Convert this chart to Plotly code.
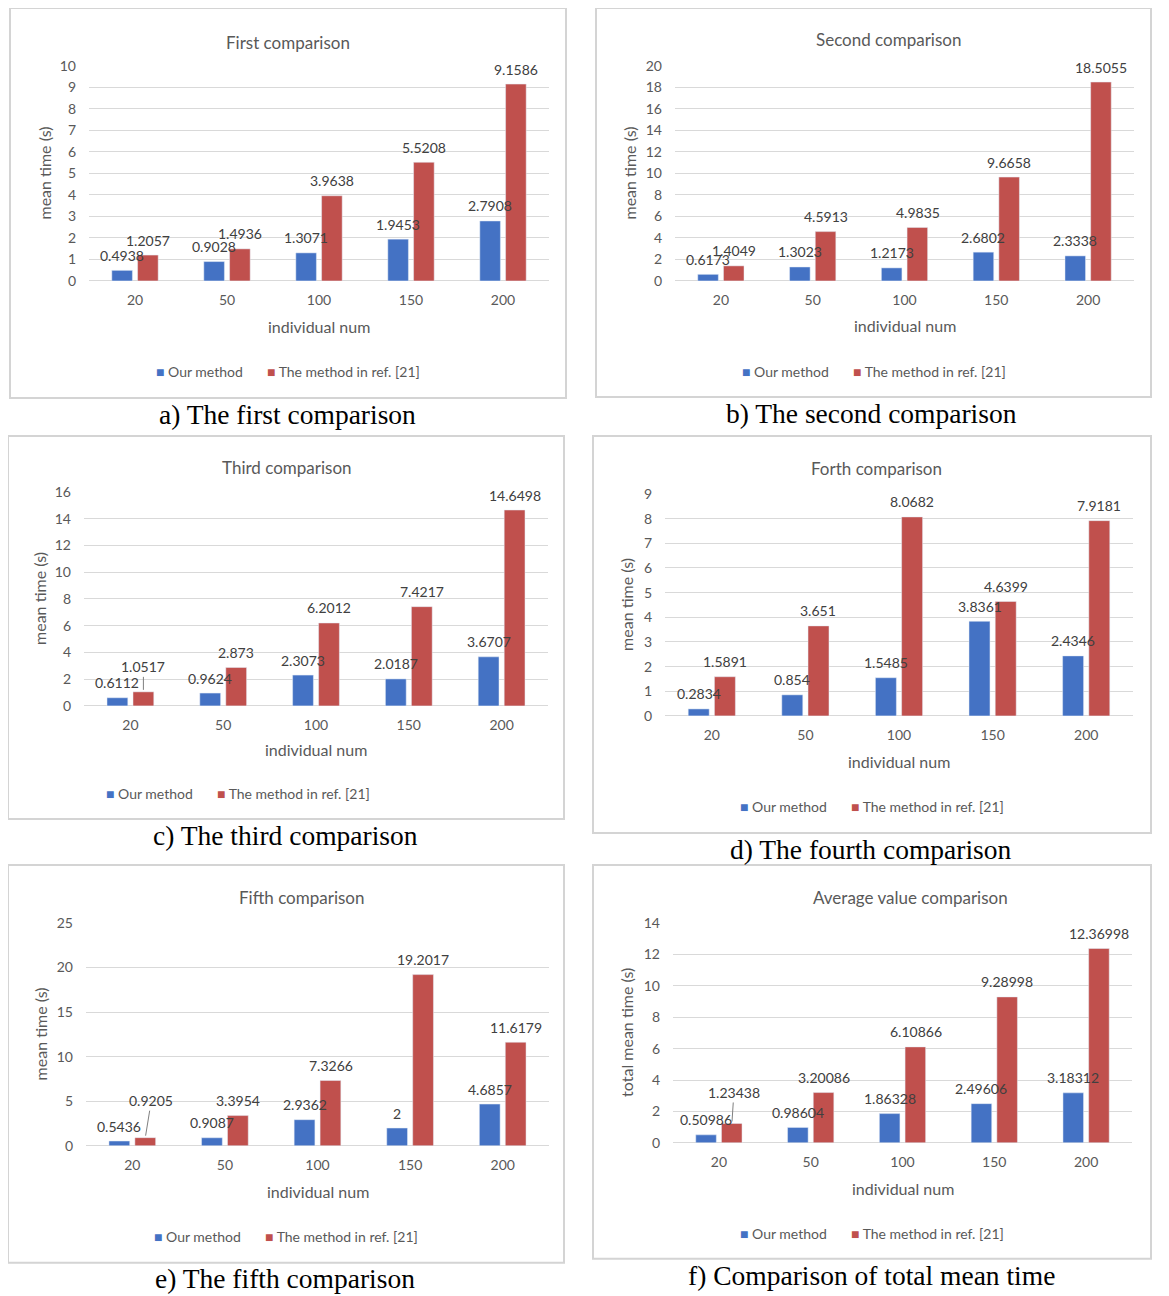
import plotly.graph_objects as go

# ---------------- data ----------------
categories = ["20", "50", "100", "150", "200"]

first_ours = [0.4938, 0.9028, 1.3071, 1.9453, 2.7908]
first_ref = [1.2057, 1.4936, 3.9638, 5.5208, 9.1586]

second_ours = [0.6173, 1.3023, 1.2173, 2.6802, 2.3338]
second_ref = [1.4049, 4.5913, 4.9835, 9.6658, 18.5055]

third_ours = [0.6112, 0.9624, 2.3073, 2.0187, 3.6707]
third_ref = [1.0517, 2.873, 6.2012, 7.4217, 14.6498]

fourth_ours = [0.2834, 0.854, 1.5485, 3.8361, 2.4346]
fourth_ref = [1.5891, 3.651, 8.0682, 4.6399, 7.9181]

fifth_ours = [0.5436, 0.9087, 2.9362, 2, 4.6857]
fifth_ref = [0.9205, 3.3954, 7.3266, 19.2017, 11.6179]

avg_ours = [0.50986, 0.98604, 1.86328, 2.49606, 3.18312]
avg_ref = [1.23438, 3.20086, 6.10866, 9.28998, 12.36998]

series_names = ["Our method", "The method in ref. [21]"]
chart_titles = ["First comparison", "Second comparison", "Third comparison",
                "Forth comparison", "Fifth comparison", "Average value comparison"]
y_titles = ["mean time (s)"] * 5 + ["total mean time (s)"]
x_title = "individual num"
captions = ["a) The first comparison", "b) The second comparison", "c) The third comparison",
            "d) The fourth comparison", "e) The fifth comparison", "f) Comparison of total mean time"]
y_max = [10, 20, 16, 9, 25, 14]
y_dtick = [1, 2, 2, 1, 5, 2]

ours_all = [first_ours, second_ours, third_ours, fourth_ours, fifth_ours, avg_ours]
ref_all = [first_ref, second_ref, third_ref, fourth_ref, fifth_ref, avg_ref]

# ---------------- layout (target pixel positions in the photographed page) ----------------
PAGE_W = 1169
MARGIN = 8                       # default page body margin
W, H = PAGE_W - 2 * MARGIN, 1296
Y_SCALE, Y_OFF = 0.987, 8.1      # observed vertical mapping page -> photo
BLUE = "#4472C4"
RED = "#C0504D"
GRID = "#D9D9D9"
FONT = "Lato, 'Open Sans', sans-serif"

pos = [
    dict(plot=(89, 549, 65, 280), frame=(10, 566, 7, 397), title=(288, 41), xt=326, yt=44, leg=(290, 371), cap=(287, 414)),
    dict(plot=(675, 1134, 65, 280), frame=(596, 1151, 7, 396), title=(888, 38), xt=325, yt=629, leg=(876, 371), cap=(872, 413)),
    dict(plot=(84, 548, 491, 705), frame=(8, 564, 435, 818), title=(287, 467), xt=749, yt=40, leg=(240, 793), cap=(285, 835)),
    dict(plot=(665, 1133, 493, 715), frame=(593, 1151, 435, 832), title=(876, 468), xt=761, yt=627, leg=(874, 806), cap=(871, 849)),
    dict(plot=(86, 549, 922, 1145), frame=(8, 564, 864, 1262), title=(301, 897), xt=1191, yt=40, leg=(288, 1236), cap=(285, 1278)),
    dict(plot=(673, 1132, 922, 1142), frame=(593, 1151, 864, 1258), title=(910, 897), xt=1188, yt=627, leg=(874, 1233), cap=(871, 1275)),
]

# labels drawn with a leader line: (panel, series, category index) -> (ax, ay)
leaders = {(2, 1, 0): (0, -25), (4, 1, 0): (6, -37), (5, 1, 0): (2, -31)}


def px(x):
    return (x - MARGIN) / W


def py(y):
    page_y = (y - Y_OFF) / Y_SCALE
    return 1 - (page_y - MARGIN) / H


fig = go.Figure()
annotations = []
shapes = []
layout_axes = {}

for i in range(6):
    p = pos[i]
    n = "" if i == 0 else str(i + 1)
    xa, ya = "x" + n, "y" + n
    x0, x1, yt, yb = p["plot"]

    fig.add_trace(go.Bar(x=categories, y=ours_all[i], name=series_names[0], marker_color=BLUE,
                         xaxis=xa, yaxis=ya, showlegend=False))
    fig.add_trace(go.Bar(x=categories, y=ref_all[i], name=series_names[1], marker_color=RED,
                         xaxis=xa, yaxis=ya, showlegend=False))

    layout_axes["xaxis" + n] = dict(
        domain=[px(x0), px(x1)], anchor=ya, type="category", range=[-0.5, len(categories) - 0.5],
        showgrid=False, showline=False,
        ticks="", tickfont=dict(family=FONT, size=14, color="#595959"), ticklabelstandoff=9,
        fixedrange=True)
    layout_axes["yaxis" + n] = dict(
        domain=[py(yb), py(yt)], anchor=xa, range=[0, y_max[i]], dtick=y_dtick[i],
        showgrid=True, gridcolor=GRID, gridwidth=1, zeroline=True, zerolinecolor=GRID,
        zerolinewidth=1, showline=False, ticks="", ticklabelstandoff=12,
        tickfont=dict(family=FONT, size=14, color="#595959"), fixedrange=True)

    # data labels (x given as category index on the category axis)
    for s, vals in enumerate([ours_all[i], ref_all[i]]):
        shift = -13 if s == 0 else 13
        for k, v in enumerate(vals):
            key = (i, s, k)
            if key in leaders:
                ax, ay = leaders[key]
                annotations.append(dict(
                    x=k, y=v, xref=xa, yref=ya, text=str(v), showarrow=True,
                    arrowhead=0, arrowwidth=1, arrowcolor="#7F7F7F", ax=ax, ay=ay, standoff=2,
                    xshift=shift, font=dict(family=FONT, size=14, color="#404040")))
            else:
                annotations.append(dict(
                    x=k, y=v, xref=xa, yref=ya, text=str(v), showarrow=False,
                    xshift=shift, yshift=15, yanchor="middle",
                    font=dict(family=FONT, size=14, color="#404040")))

    annotations.append(dict(x=px(p["title"][0]), y=py(p["title"][1]), xref="paper", yref="paper",
                            text=chart_titles[i], showarrow=False, xanchor="center", yanchor="middle",
                            font=dict(family=FONT, size=17, color="#595959")))
    annotations.append(dict(x=px((x0 + x1) / 2), y=py(p["xt"]), xref="paper", yref="paper",
                            text=x_title, showarrow=False, xanchor="center", yanchor="middle",
                            font=dict(family=FONT, size=16, color="#595959")))
    annotations.append(dict(x=px(p["yt"]), y=py((yt + yb) / 2), xref="paper", yref="paper",
                            text=y_titles[i], showarrow=False, textangle=-90,
                            xanchor="center", yanchor="middle",
                            font=dict(family=FONT, size=16, color="#595959")))
    lx, ly = p["leg"]
    for s, (name, col, off) in enumerate([(series_names[0], BLUE, -136), (series_names[1], RED, -25)]):
        annotations.append(dict(
            x=px(lx + off), y=py(ly), xref="paper", yref="paper", showarrow=False,
            xanchor="left", yanchor="middle",
            text=f'<span style="color:{col};font-size:14px">■</span> {name}',
            font=dict(family=FONT, size=14, color="#595959")))
    annotations.append(dict(x=px(p["cap"][0]), y=py(p["cap"][1]), xref="paper", yref="paper",
                            text=captions[i], showarrow=False, xanchor="center", yanchor="middle",
                            font=dict(family="'Liberation Serif', 'Times New Roman', serif",
                                      size=27.5, color="#000000")))
    fx0, fx1, fy0, fy1 = p["frame"]
    shapes.append(dict(type="rect", xref="paper", yref="paper", x0=px(fx0), x1=px(fx1),
                       y0=py(fy1), y1=py(fy0), line=dict(color="#D4D4D4", width=2),
                       fillcolor="rgba(0,0,0,0)", layer="below"))

fig.update_layout(
    width=W, height=H, margin=dict(l=0, r=0, t=0, b=0),
    paper_bgcolor="white", plot_bgcolor="white",
    barmode="group", bargap=0.44, bargroupgap=0.2,
    showlegend=False, annotations=annotations, shapes=shapes,
    **layout_axes)

fig.write_html("out.html")
